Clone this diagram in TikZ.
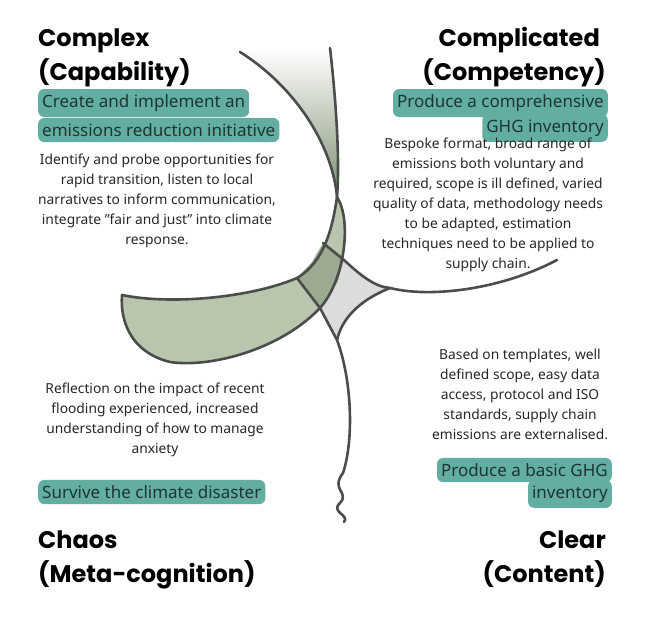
\documentclass[tikz,border=0pt]{standalone}
\usepackage{fontspec}
\setmainfont{Noto Sans}
\newfontfamily\titlefont{Poppins}
\definecolor{edge}{HTML}{4A4E4A}
\definecolor{band}{HTML}{BAC5AE}
\definecolor{banddark}{HTML}{9DAA92}
\definecolor{leaf}{HTML}{7E9070}
\definecolor{centre}{HTML}{DCDDDA}
\definecolor{tag}{HTML}{62AEA2}
\definecolor{tagtext}{HTML}{1F3532}
\tikzset{
  title/.style={inner sep=0pt,font=\titlefont\bfseries\fontsize{24}{28}\selectfont},
  body/.style={inner sep=0pt,align=center,font=\fontsize{13.8}{20}\selectfont,text=black!85},
  goal/.style={fill=tag,rounded corners=6pt,inner xsep=4pt,inner ysep=5.5pt,
               font=\fontsize{17}{20}\selectfont,text=tagtext},
  curve/.style={draw=edge,line width=2.6pt,line cap=round,line join=round},
}
\begin{document}
\begin{tikzpicture}[x=1pt,y=-1pt]
\useasboundingbox (0,0) rectangle (655,621);
% key points of the central figure
\coordinate (X) at (337,197);
\coordinate (T) at (122,295);
\coordinate (atop) at (240,52);
\coordinate (btop) at (330,48);
\coordinate (d1) at (297,278);
\coordinate (d2) at (320,308);
\coordinate (e1) at (323,243);
\coordinate (e2) at (344,260);
\coordinate (c1) at (390,288);
\coordinate (c2) at (337,340);
\coordinate (rend) at (557,260);
% fills
\shade[top color=white,bottom color=leaf] (atop) .. controls (300,90) and (333,150) .. (X)
  .. controls (340,160) and (336,100) .. (btop) -- cycle;
\fill[band] (X) .. controls (333,225) and (325,262) .. (d1)
  .. controls (250,298) and (170,305) .. (T)
  .. controls (120,320) and (130,352) .. (170,362)
  .. controls (210,368) and (280,350) .. (d2)
  .. controls (345,280) and (352,220) .. (X) -- cycle;
\fill[banddark] (d1) -- (d2) -- (338,282) -- (e2) -- (e1) -- (312,262) -- cycle;
\fill[centre] (d2) -- (338,282) -- (e2) .. controls (360,275) and (375,287) .. (c1)
  .. controls (360,300) and (342,318) .. (c2) -- (d2) -- cycle;
% lines
\draw[curve] (atop) .. controls (300,90) and (333,150) .. (X)
  .. controls (352,220) and (345,280) .. (d2)
  .. controls (280,350) and (210,368) .. (170,362)
  .. controls (130,352) and (120,320) .. (T);
\draw[curve] (btop) .. controls (336,100) and (340,160) .. (X)
  .. controls (333,225) and (325,262) .. (d1)
  .. controls (250,298) and (170,305) .. (T);
\draw[curve] (d1) -- (d2) -- (c2)
  .. controls (352,380) and (354,440) .. (343,473)
  .. controls (330,490) and (350,492) .. (340,503)
  .. controls (330,512) and (350,515) .. (344,522);
\draw[curve] (e1) -- (e2) .. controls (360,275) and (375,287) .. (c1)
  .. controls (430,298) and (500,290) .. (rend);
\draw[curve] (c1) .. controls (360,300) and (342,318) .. (c2);
% Complex
\node[title,anchor=base west] (cx1) at (38,46) {Complex};
\node[title,anchor=base west] (cx2) at (38,80) {(Capability)};
\node[goal,anchor=west] (cxg1) at (38,103) {Create and implement an};
\node[goal,anchor=west] (cxg2) at (38,130) {emissions reduction initiative};
\node[body,anchor=north] (cxb) at (157,154) {Identify and probe opportunities for\\rapid transition, listen to local\\narratives to inform communication,\\integrate "fair and just" into climate\\response.};
% Complicated
\node[title,anchor=base east] (cp1) at (600,46) {Complicated};
\node[title,anchor=base east] (cp2) at (606,80) {(Competency)};
\node[goal,anchor=east] (cpg1) at (608,103) {Produce a comprehensive};
\node[goal,anchor=east] (cpg2) at (608,128) {GHG inventory};
\node[body,anchor=north] (cpb) at (488,138) {Bespoke format, broad range of\\emissions both voluntary and\\required, scope is ill defined, varied\\quality of data, methodology needs\\to be adapted, estimation\\techniques need to be applied to\\supply chain.};
% Clear
\node[body,anchor=north] (clb) at (520,349) {Based on templates, well\\defined scope, easy data\\access, protocol and ISO\\standards, supply chain\\emissions are externalised.};
\node[goal,anchor=east] (clg1) at (612,470) {Produce a basic GHG};
\node[goal,anchor=east] (clg2) at (612,494) {inventory};
\node[title,anchor=base east] (cl1) at (606,548) {Clear};
\node[title,anchor=base east] (cl2) at (606,582) {(Content)};
% Chaos
\node[body,anchor=north] (chb) at (155,383) {Reflection on the impact of recent\\flooding experienced, increased\\understanding of how to manage\\anxiety};
\node[goal,anchor=west] (chg) at (38,492) {Survive the climate disaster};
\node[title,anchor=base west] (ch1) at (38,548) {Chaos};
\node[title,anchor=base west] (ch2) at (38,582) {(Meta-cognition)};
\end{tikzpicture}
\end{document}
